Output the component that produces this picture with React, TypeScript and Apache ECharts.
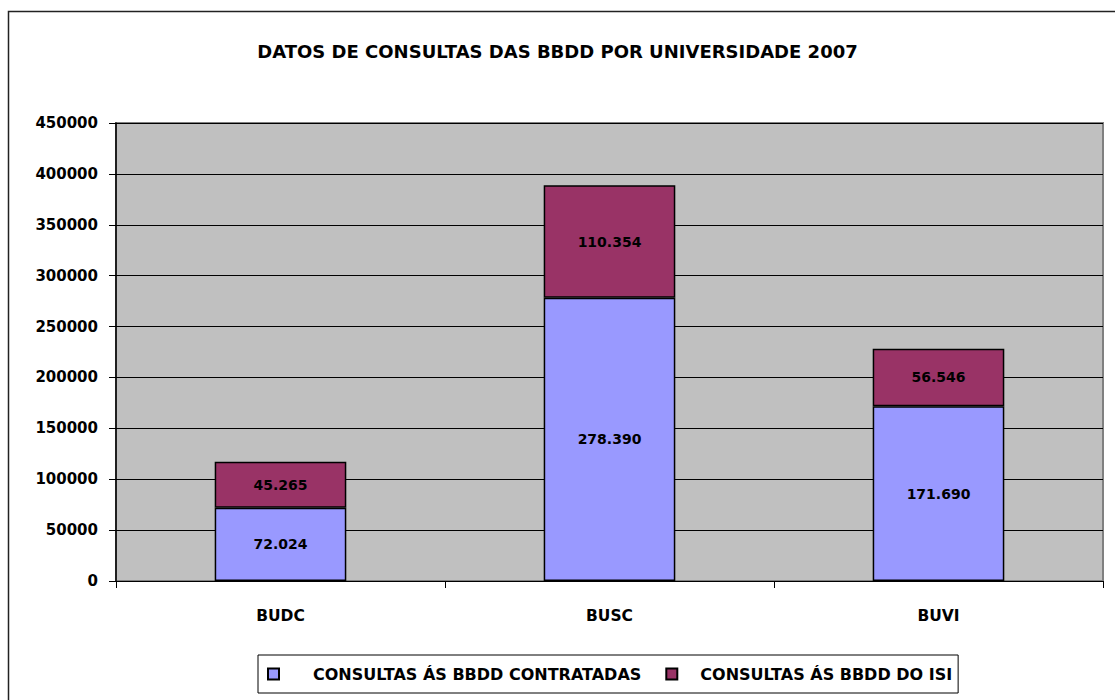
import React, { useEffect, useRef } from "react";
import * as echarts from "echarts";

const categories = ["BUDC", "BUSC", "BUVI"];
const contratadas = [72024, 278390, 171690];
const isi = [45265, 110354, 56546];
const seriesNames = ["CONSULTAS ÁS BBDD CONTRATADAS", "CONSULTAS ÁS BBDD DO ISI"];
const titleText = "DATOS DE CONSULTAS DAS BBDD POR UNIVERSIDADE 2007";

const FONT = "'DejaVu Sans', Verdana, sans-serif";
const fmt = (v: number) => String(v).replace(/\B(?=(\d{3})+(?!\d))/g, ".");

export default function App() {
  const ref = useRef<HTMLDivElement>(null);
  useEffect(() => {
    if (!ref.current) return;
    const chart = echarts.init(ref.current, null, { renderer: "svg" });
    const labelCfg = {
      show: true,
      position: "inside",
      color: "#000",
      fontWeight: "bold",
      fontSize: 14,
      fontFamily: FONT,
      formatter: (p: any) => fmt(p.value),
    };
    chart.setOption({
      animation: false,
      backgroundColor: "#fff",
      textStyle: { fontFamily: FONT },
      title: {
        text: titleText,
        left: "center",
        top: 42,
        padding: 0,
        textStyle: { fontSize: 18, fontWeight: "bold", color: "#000", fontFamily: FONT },
      },
      graphic: [
        {
          type: "rect",
          shape: { x: 8.5, y: 11.5, width: 1300, height: 900 },
          style: { fill: "none", stroke: "#222", lineWidth: 1.5 },
          silent: true,
          z: 100,
        },
      ],
      grid: {
        left: 116,
        top: 123,
        right: 12,
        bottom: 119,
        show: true,
        backgroundColor: "#C0C0C0",
        borderColor: "#808080",
        borderWidth: 2,
      },
      legend: {
        left: 258,
        top: 655,
        orient: "horizontal",
        padding: [11, 6, 11, 9],
        borderColor: "#000",
        borderWidth: 1,
        backgroundColor: "#fff",
        itemWidth: 11,
        itemHeight: 11,
        itemGap: 24,
        icon: "rect",
        textStyle: {
          fontSize: 16,
          fontWeight: "bold",
          color: "#000",
          fontFamily: FONT,
        },
        data: [
          { name: seriesNames[0], textStyle: { padding: [0, 0, 0, 29] } },
          { name: seriesNames[1], textStyle: { padding: [0, 0, 0, 18] } },
        ],
      },
      xAxis: {
        type: "category",
        data: categories,
        axisLine: { lineStyle: { color: "#000", width: 1 } },
        axisTick: { show: true, length: 7, lineStyle: { color: "#000" } },
        axisLabel: { color: "#000", fontWeight: "bold", fontSize: 15.5, margin: 27, fontFamily: FONT },
      },
      yAxis: {
        type: "value",
        min: 0,
        max: 450000,
        interval: 50000,
        axisLine: { show: true, lineStyle: { color: "#000", width: 1.5 } },
        axisTick: { show: true, length: 7, lineStyle: { color: "#000" } },
        axisLabel: {
          color: "#000",
          fontWeight: "bold",
          fontSize: 15,
          margin: 18,
          fontFamily: FONT,
          formatter: (v: number) => String(v),
        },
        splitLine: { show: true, lineStyle: { color: "#000", width: 1 } },
      },
      series: [
        {
          name: seriesNames[0],
          type: "bar",
          stack: "total",
          barWidth: "40%",
          data: contratadas,
          itemStyle: { color: "#9999FF", borderColor: "#000", borderWidth: 1.5 },
          label: labelCfg,
        },
        {
          name: seriesNames[1],
          type: "bar",
          stack: "total",
          barWidth: "40%",
          data: isi,
          itemStyle: { color: "#993366", borderColor: "#000", borderWidth: 1.5 },
          label: labelCfg,
        },
      ],
    });
    return () => chart.dispose();
  }, []);
  return (
    <div
      ref={ref}
      style={{ position: "absolute", left: 0, top: 0, width: 1115, height: 700 }}
    />
  );
}
